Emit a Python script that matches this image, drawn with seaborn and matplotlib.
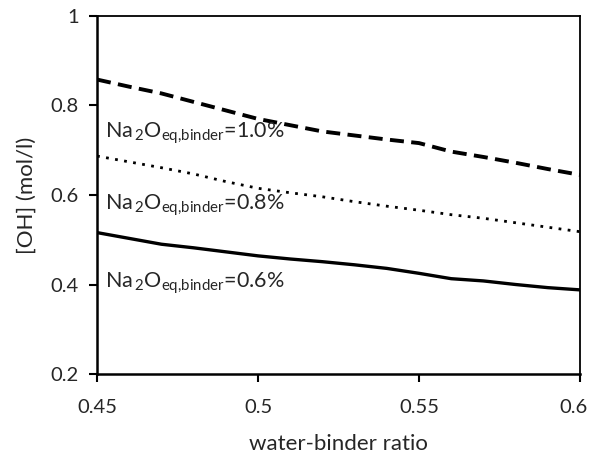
import numpy as np
import pandas as pd
import matplotlib
matplotlib.use("Agg")
import matplotlib.pyplot as plt
import matplotlib.transforms as mtransforms
import seaborn as sns

# water-binder ratio
wb_ratio = [0.45, 0.46, 0.47, 0.48, 0.49, 0.50, 0.51, 0.52,
            0.53, 0.54, 0.55, 0.56, 0.57, 0.58, 0.59, 0.60]
# [OH-] in mol/l, one list per alkali content of the binder
oh_10 = [0.858, 0.842, 0.827, 0.808, 0.789, 0.770, 0.756, 0.742,
         0.733, 0.724, 0.716, 0.697, 0.685, 0.672, 0.658, 0.645]
oh_08 = [0.687, 0.674, 0.661, 0.647, 0.630, 0.615, 0.605, 0.596,
         0.585, 0.575, 0.566, 0.556, 0.548, 0.538, 0.528, 0.518]
oh_06 = [0.516, 0.503, 0.490, 0.482, 0.473, 0.464, 0.457, 0.451,
         0.444, 0.436, 0.425, 0.413, 0.408, 0.400, 0.393, 0.388]
labels = ["1.0%", "0.8%", "0.6%"]
x_ticks = [0.45, 0.5, 0.55, 0.6]
x_ticklabels = ["0.45", "0.5", "0.55", "0.6"]
y_ticks = [0.2, 0.4, 0.6, 0.8, 1.0]
y_ticklabels = ["0.2", "0.4", "0.6", "0.8", "1"]

sns.set_style("ticks")
plt.rcParams["font.family"] = ["Lato", "DejaVu Sans"]
plt.rcParams["mathtext.fontset"] = "custom"
plt.rcParams["mathtext.rm"] = "Lato"
plt.rcParams["mathtext.it"] = "Lato"

df = pd.DataFrame({"wb": wb_ratio * 3,
                   "oh": oh_10 + oh_08 + oh_06,
                   "grp": sum([[l] * len(wb_ratio) for l in labels], [])})

fig = plt.figure(figsize=(5.92, 4.57), dpi=100)
ax = fig.add_axes([0.1639, 0.1816, 0.8158, 0.7834])

styles = {"1.0%": dict(linestyle=(0, (3.6, 1.9)), linewidth=2.8),
          "0.8%": dict(linestyle=(0, (1, 2.3)), linewidth=2.0),
          "0.6%": dict(linestyle="-", linewidth=2.4)}
for lab in labels:
    sub = df[df["grp"] == lab]
    sns.lineplot(data=sub, x="wb", y="oh", ax=ax, color="black",
                 legend=False, **styles[lab])

# curve labels
label_y = {"1.0%": 0.739, "0.8%": 0.578, "0.6%": 0.403}
for lab in labels:
    ax.text(0.4525, label_y[lab],
            r"Na$_{\,2}$O$_{\mathrm{eq{,}binder}}$=" + lab,
            fontsize=15.5, va="center", ha="left")

ax.set_xlim(0.45, 0.6)
ax.set_ylim(0.2, 1.0)
ax.set_xticks(x_ticks)
ax.set_xticklabels(x_ticklabels)
ax.set_yticks(y_ticks)
ax.set_yticklabels(y_ticklabels)
ax.tick_params(axis="both", labelsize=14.5, length=6, width=1.5,
               direction="out", color="black", pad=12)
ax.tick_params(axis="y", pad=7)
# nudge the last x tick label so it stays inside the figure
last = ax.get_xticklabels()[-1]
last.set_transform(last.get_transform() +
                   mtransforms.ScaledTranslation(-6 / 100, 0, fig.dpi_scale_trans))
ax.set_xlabel("water-binder ratio", fontsize=16, labelpad=13)
ax.set_ylabel("[OH] (mol/l)", fontsize=16, labelpad=10)
for side in ["left", "bottom"]:
    ax.spines[side].set_linewidth(1.8)
for side in ["top", "right"]:
    ax.spines[side].set_linewidth(1.3)
for s in ax.spines.values():
    s.set_color("black")

fig.savefig("out.png", dpi=100)
